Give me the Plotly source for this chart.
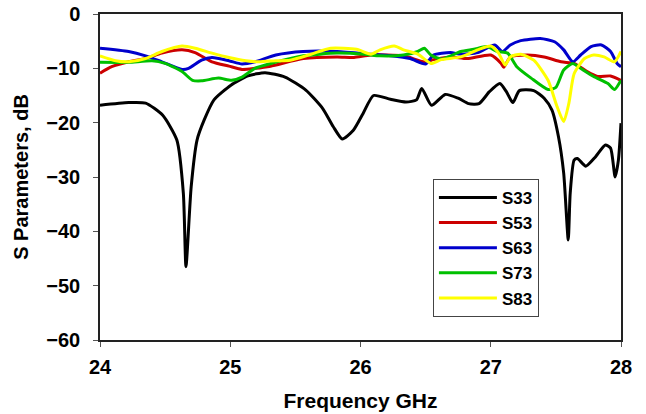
import plotly.graph_objects as go

# S33 (black)
f_s33 = [24.0, 24.22, 24.35, 24.48, 24.59, 24.64, 24.66, 24.70, 24.745, 24.80, 24.875, 25.005, 25.136,
         25.267, 25.42, 25.58, 25.71, 25.79, 25.86, 25.945, 26.02, 26.10, 26.23, 26.35, 26.43, 26.47,
         26.545, 26.65, 26.75, 26.83, 26.91, 26.99, 27.07, 27.12, 27.17, 27.22, 27.33, 27.41, 27.47,
         27.52, 27.56, 27.595, 27.61, 27.64, 27.665, 27.73, 27.80, 27.88, 27.92, 27.955, 27.98, 28.0]
s33 = [-16.8, -16.3, -16.4, -18.6, -23.2, -33.0, -46.5, -31.8, -23.2, -19.5, -15.8, -13.1, -11.4,
       -10.8, -11.6, -14.0, -17.4, -20.7, -23.0, -21.4, -18.3, -15.0, -15.7, -16.2, -15.8, -13.7,
       -16.8, -14.8, -15.5, -16.5, -16.5, -14.3, -12.8, -14.3, -16.3, -14.1, -14.1, -15.5, -17.7,
       -22.6, -29.3, -41.6, -33.0, -26.9, -26.6, -28.0, -26.4, -24.1, -24.7, -30.0, -26.9, -20.1]

# S53 (red)
f_s53 = [24.0, 24.09, 24.22, 24.35, 24.475, 24.63, 24.73, 24.86, 24.99, 25.09, 25.19, 25.31, 25.56,
         25.82, 25.95, 26.08, 26.33, 26.49, 26.56, 26.69, 26.82, 27.0, 27.08, 27.10, 27.15, 27.28,
         27.41, 27.54, 27.64, 27.74, 27.82, 27.92, 28.0]
s53 = [-10.9, -9.7, -8.8, -8.2, -7.2, -6.6, -7.1, -8.8, -9.6, -10.2, -10.0, -9.6, -8.2,
       -7.9, -8.0, -7.55, -7.7, -8.8, -8.4, -7.9, -8.2, -7.55, -9.1, -9.8, -7.9, -7.55,
       -7.9, -8.8, -9.1, -10.6, -11.5, -11.4, -12.2]

# S63 (blue)
f_s63 = [24.0, 24.22, 24.35, 24.475, 24.63, 24.68, 24.78, 24.86, 24.99, 25.09, 25.19, 25.35, 25.56,
         25.82, 26.08, 26.23, 26.38, 26.50, 26.56, 26.69, 26.77, 26.90, 27.03, 27.09, 27.15, 27.23,
         27.38, 27.49, 27.56, 27.63, 27.69, 27.77, 27.85, 27.92, 27.97, 28.0]
s63 = [-6.3, -6.9, -7.7, -8.8, -10.2, -10.0, -8.5, -8.0, -8.6, -9.2, -8.8, -7.55, -6.9,
       -6.9, -7.4, -7.7, -8.2, -9.2, -7.55, -7.1, -7.4, -7.1, -5.7, -6.9, -5.7, -4.9,
       -4.5, -5.1, -6.6, -8.8, -7.55, -6.0, -5.7, -6.9, -9.1, -9.7]

# S73 (green)
f_s73 = [24.0, 24.22, 24.4, 24.5, 24.63, 24.71, 24.78, 24.91, 25.01, 25.09, 25.19, 25.33, 25.56,
         25.82, 26.03, 26.15, 26.33, 26.44, 26.49, 26.54, 26.62, 26.77, 26.87, 26.97, 27.05, 27.13,
         27.20, 27.31, 27.44, 27.50, 27.56, 27.63, 27.69, 27.79, 27.90, 27.95, 28.0]
s73 = [-8.9, -8.9, -8.6, -9.1, -10.6, -12.2, -12.3, -11.8, -12.2, -11.6, -10.0, -9.0, -7.7,
       -7.2, -7.4, -7.7, -7.55, -6.9, -6.3, -7.55, -8.3, -6.9, -6.5, -6.0, -6.9, -7.2,
       -9.7, -11.8, -13.9, -13.5, -10.3, -9.1, -10.0, -11.5, -12.8, -13.9, -12.2]

# S83 (yellow)
f_s83 = [24.0, 24.12, 24.22, 24.35, 24.475, 24.63, 24.73, 24.86, 24.99, 25.12, 25.22, 25.35, 25.46,
         25.62, 25.77, 25.97, 26.08, 26.15, 26.26, 26.33, 26.44, 26.54, 26.62, 26.77, 26.90, 27.0,
         27.06, 27.11, 27.15, 27.23, 27.33, 27.44, 27.51, 27.56, 27.60, 27.64, 27.72, 27.79, 27.87,
         27.95, 28.0]
s83 = [-7.7, -8.6, -8.8, -8.2, -6.9, -5.9, -6.3, -7.2, -8.0, -8.6, -8.8, -8.6, -8.5,
       -7.4, -6.3, -6.5, -7.4, -6.6, -5.9, -6.6, -7.4, -9.1, -8.4, -7.9, -6.6, -5.9,
       -7.2, -9.4, -7.9, -7.4, -8.5, -12.2, -17.1, -19.8, -16.4, -11.0, -8.2, -7.55, -7.9,
       -8.8, -6.9]

x_ticks = [24, 25, 26, 27, 28]
y_ticks = [0, -10, -20, -30, -40, -50, -60]

series = [
    ("S33", f_s33, s33, "#000000"),
    ("S53", f_s53, s53, "#cc0000"),
    ("S63", f_s63, s63, "#0000cc"),
    ("S73", f_s73, s73, "#00c000"),
    ("S83", f_s83, s83, "#ffff00"),
]

fig = go.Figure()
for name, x, y, c in series:
    fig.add_trace(go.Scatter(x=x, y=y, mode="lines", name=name,
                             line=dict(color=c, width=3, shape="spline", smoothing=0.6)))

font_family = "Liberation Sans, Arial, sans-serif"
fig.update_layout(
    width=646, height=414,
    margin=dict(l=100, r=25, t=14, b=74, autoexpand=False),
    paper_bgcolor="white", plot_bgcolor="white",
    font=dict(family=font_family, color="black", size=18, weight="bold"),
    showlegend=True,
    legend=dict(x=0.639, y=0.494, xanchor="left", yanchor="top",
                bgcolor="white", bordercolor="#444444", borderwidth=1,
                font=dict(family=font_family, size=17, color="black", weight="bold"),
                itemwidth=58, tracegroupgap=0),
    xaxis=dict(range=[24, 28], tickvals=x_ticks, automargin=False,
               showgrid=False, zeroline=False, showline=True, linecolor="#222222", linewidth=1.5,
               mirror=True, ticks="outside", ticklen=5, tickcolor="#555555",
               tickfont=dict(size=20, weight="bold"), ticklabelstandoff=3,
               title=dict(text="Frequency GHz", font=dict(size=21, weight="bold"), standoff=17)),
    yaxis=dict(range=[-60, 0], tickvals=y_ticks, automargin=False,
               showgrid=False, zeroline=False, showline=True, linecolor="#222222", linewidth=1.5,
               mirror=True, ticks="outside", ticklen=5, tickcolor="#555555",
               tickfont=dict(size=20, weight="bold"), ticklabelstandoff=9,
               title=dict(text="S Parameters, dB", font=dict(size=20, weight="bold"), standoff=12)),
)

fig.write_html("out.html")
